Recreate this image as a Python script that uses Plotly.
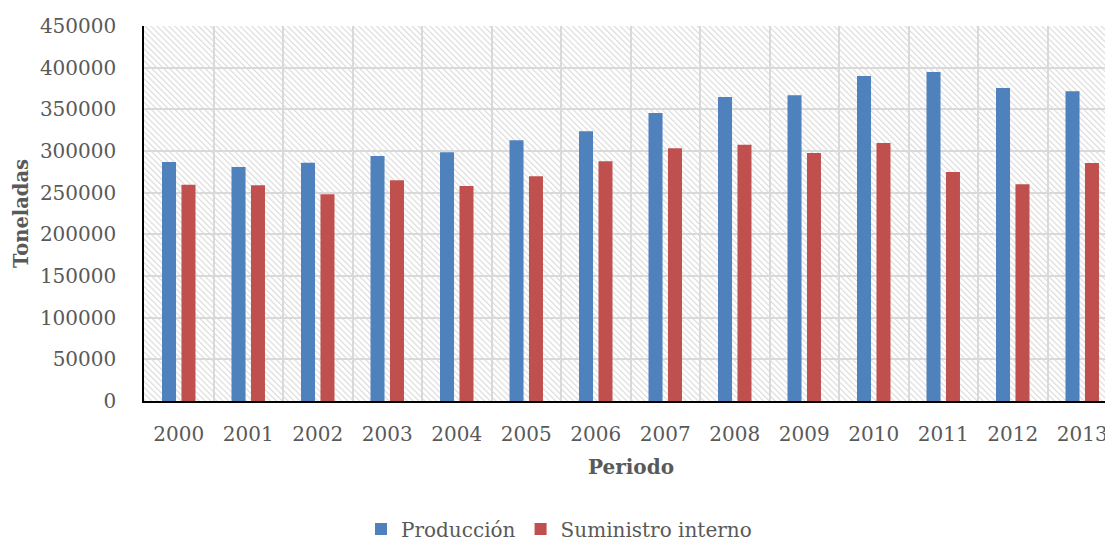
import base64
import plotly.graph_objects as go

years = [str(y) for y in range(2000, 2014)]
produccion = [286800, 280800, 286000, 294000, 298400, 312800, 323600,
              345600, 364800, 366800, 390000, 394800, 375600, 371600]
suministro = [259600, 258800, 248000, 264800, 258000, 269600, 287600,
              303200, 307600, 297600, 309600, 274800, 260000, 285600]

W, H = 1105, 544
ML, MR, MT, MB = 144, 0, 26, 143
PW, PH = W - ML - MR, H - MT - MB
CAT_PX = 69.5  # width of one category in the original (unclipped) chart

svg = (
    f"<svg xmlns='http://www.w3.org/2000/svg' width='{PW}' height='{PH}' viewBox='0 0 {PW} {PH}'>"
    "<defs><pattern id='p' width='4.2' height='4.2' patternUnits='userSpaceOnUse' "
    "patternTransform='rotate(-45)'>"
    "<rect x='0' y='0' width='1.2' height='4.2' fill='#dcdcdc'/></pattern></defs>"
    f"<rect width='{PW}' height='{PH}' fill='white'/>"
    f"<rect width='{PW}' height='{PH}' fill='url(#p)'/></svg>"
)
bg = "data:image/svg+xml;base64," + base64.b64encode(svg.encode()).decode()

FONT = "DejaVu Serif"
GRAY = "#595959"

fig = go.Figure()
fig.add_trace(go.Bar(name="Producción", x=years, y=produccion,
                     marker=dict(color="#4f81bd", line=dict(width=0))))
fig.add_trace(go.Bar(name="Suministro interno", x=years, y=suministro,
                     marker=dict(color="#c0504d", line=dict(width=0))))

x_end = -0.5 + PW / CAT_PX
full_center_px = ML + 14 * CAT_PX / 2

fig.update_layout(
    width=W, height=H,
    margin=dict(l=ML, r=MR, t=MT, b=MB, pad=0, autoexpand=False),
    paper_bgcolor="white", plot_bgcolor="rgba(0,0,0,0)",
    barmode="group", bargap=0.44, bargroupgap=0.28,
    font=dict(family=FONT, color=GRAY, size=20),
    images=[dict(source=bg, xref="paper", yref="paper", x=0, y=1,
                 sizex=1, sizey=1, sizing="stretch", layer="below",
                 xanchor="left", yanchor="top")],
    xaxis=dict(type="category", range=[-0.5, x_end], tickson="boundaries",
               automargin=False,
               showgrid=True, gridcolor="#d9d9d9", gridwidth=1.5,
               showline=True, linecolor="black", linewidth=1.5,
               ticks="", tickfont=dict(size=20, color=GRAY, family=FONT),
               ticklabelstandoff=14, zeroline=False),
    yaxis=dict(range=[0, 450000], dtick=50000, tickformat="d",
               automargin=False,
               showgrid=True, gridcolor="#d9d9d9", gridwidth=1.5,
               showline=True, linecolor="black", linewidth=1.5,
               ticks="", tickfont=dict(size=20, color=GRAY, family=FONT),
               ticklabelstandoff=22, zeroline=False,
               title=dict(text="<b>Toneladas</b>", standoff=6,
                          font=dict(size=19.5, color=GRAY, family=FONT))),
    legend=dict(orientation="h", x=(559 - ML) / PW, xanchor="center",
                y=(MT + PH - 529) / PH, yanchor="middle",
                borderwidth=0, tracegroupgap=0,
                font=dict(size=20, color=GRAY, family=FONT),
                bgcolor="rgba(0,0,0,0)"),
    annotations=[dict(text="<b>Periodo</b>", xref="paper", yref="paper",
                      x=(full_center_px - ML) / PW, y=(MT + PH - 467) / PH,
                      xanchor="center", yanchor="middle", showarrow=False,
                      font=dict(size=20, color=GRAY, family=FONT))],
)

fig.write_html(
    "out.html",
    config={"displayModeBar": False},
    post_script="document.body.style.margin='0';document.body.style.overflow='hidden';",
)
